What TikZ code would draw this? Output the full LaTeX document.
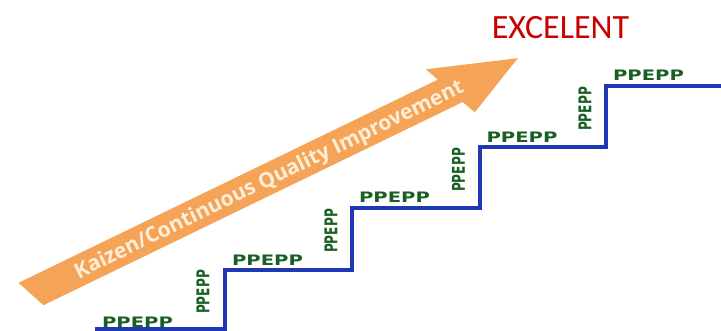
\documentclass[tikz,border=0pt]{standalone}
\usepackage{fontspec}
\setmainfont{Carlito}
\newfontfamily\ppfont{DejaVu Sans}
\newfontfamily\arrowfont{Open Sans}
\definecolor{arrowc}{RGB}{245,163,86}
\definecolor{arrowtxt}{RGB}{253,238,218}
\definecolor{stairc}{RGB}{30,55,180}
\definecolor{ppgreen}{RGB}{25,95,35}
\definecolor{excred}{RGB}{200,0,0}
\tikzset{
  hlabel/.style={inner sep=0pt, text=ppgreen, font=\ppfont\bfseries\fontsize{14.4}{14.4}\selectfont, xscale=1.36},
  vlabel/.style={inner sep=0pt, text=ppgreen, font=\ppfont\bfseries\fontsize{17.6}{17.6}\selectfont, rotate=90, xscale=0.69},
  stair/.style={draw=stairc, line width=3.6pt, line join=miter},
}
\begin{document}
\begin{tikzpicture}[x=1pt,y=-1pt]
\useasboundingbox (0,0) rectangle (721,331);
\fill[white] (0,0) rectangle (721,331);
% arrow
\begin{scope}[shift={(31,294)}, rotate=25.85]
\fill[arrowc] (-6.3,-15.5) -- (459.7,-15.5) -- (453.4,-30) -- (541,0) -- (478.6,30) -- (472.3,15.5) -- (6.3,15.5) -- cycle;
\end{scope}
\node[inner sep=0pt, text=arrowtxt, rotate=25.85, font=\arrowfont\bfseries\fontsize{21}{21}\selectfont] (kaizen) at (269.5,180.5) {Kaizen/Continuous Quality Improvement};
% stairs
\coordinate (s0) at (95,329);
\coordinate (c1) at (225,329);
\coordinate (c2) at (225,270);
\coordinate (c3) at (352,270);
\coordinate (c4) at (352,208);
\coordinate (c5) at (480,208);
\coordinate (c6) at (480,147);
\coordinate (c7) at (606,147);
\coordinate (c8) at (606,86);
\coordinate (s9) at (721,86);
\draw[stair] (s0) -- (c1) -- (c2) -- (c3) -- (c4) -- (c5) -- (c6) -- (c7) -- (c8) -- (s9);
% labels
\node[hlabel] (h1) at (137.5,322) {PPEPP};
\node[hlabel] (h2) at (267.5,260) {PPEPP};
\node[hlabel] (h3) at (394.5,197.5) {PPEPP};
\node[hlabel] (h4) at (522,137) {PPEPP};
\node[hlabel] (h5) at (648.5,75) {PPEPP};
\node[vlabel] (v1) at (203,292) {PPEPP};
\node[vlabel] (v2) at (331,231) {PPEPP};
\node[vlabel] (v3) at (458.5,170) {PPEPP};
\node[vlabel] (v4) at (585,109) {PPEPP};
\node[inner sep=0pt, text=excred, font=\fontsize{34}{34}\selectfont] (exc) at (560.5,28) {EXCELENT};
\end{tikzpicture}
\end{document}
